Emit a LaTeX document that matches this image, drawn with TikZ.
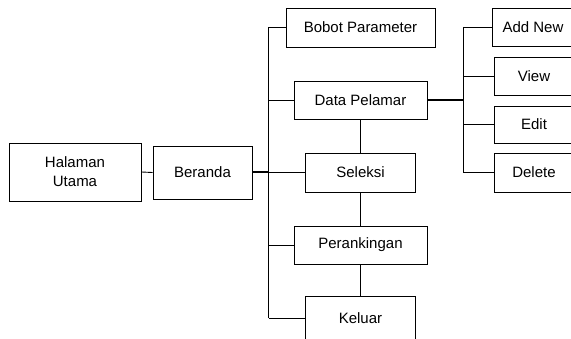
\documentclass[tikz,border=0pt]{standalone}
\usepackage{fontspec}
\setmainfont{Liberation Sans}
\begin{document}
\begin{tikzpicture}[x=1pt,y=-1pt,
  box/.style={draw=black,line width=0.9pt,inner sep=0pt,align=center,font=\fontsize{15}{19}\selectfont},
  thin/.style={line width=0.9pt},
  thick2/.style={line width=2pt}]
\useasboundingbox (0,0) rectangle (571,339);
\clip (0,0) rectangle (571,339);
\node[box,minimum width=132pt,minimum height=58pt] (hal) at (75,172) {Halaman\\Utama};
\node[box,minimum width=99pt,minimum height=53pt] (ber) at (202.5,172.5) {Beranda};
\node[box,minimum width=149pt,minimum height=39pt] (bob) at (360.5,27.5) {Bobot Parameter};
\node[box,minimum width=133pt,minimum height=38pt] (dat) at (360.5,100) {Data Pelamar};
\node[box,minimum width=110pt,minimum height=39pt] (sel) at (360.5,172.5) {Seleksi};
\node[box,minimum width=133pt,minimum height=38pt] (per) at (360.5,245) {Perankingan};
\node[box,minimum width=110pt,minimum height=44pt] (kel) at (360.5,318) {Keluar};
\node[box,minimum width=82pt,minimum height=38pt] (add) at (533,27) {Add New};
\node[box,minimum width=80pt,minimum height=38pt] (vie) at (534,76) {View};
\node[box,minimum width=80pt,minimum height=37pt] (edi) at (534,124.5) {Edit};
\node[box,minimum width=80pt,minimum height=39pt] (del) at (534,172.5) {Delete};
\coordinate (tt) at (268.5,27.5);
\coordinate (tb) at (268.5,318);
\coordinate (tm) at (268.5,172.5);
\coordinate (bt) at (463,27);
\coordinate (bb) at (463,172.5);
\coordinate (bm) at (463,100);
% left
\draw[thin] (hal.east) -- (ber.west);
\draw[thick2] (ber.east) -- (tm);
\draw[thin] (tm) -- (sel.west);
\draw[thin] (tt) -- (tb);
\draw[thin] (tt) -- (bob.west);
\draw[thin] (tt |- dat.west) -- (dat.west);
\draw[thin] (tt |- per.west) -- (per.west);
\draw[thin] (tb) -- (kel.west);
% middle chain
\draw[thin] (dat.south) -- (sel.north);
\draw[thin] (sel.south) -- (per.north);
\draw[thin] (per.south) -- (kel.north);
% right branch
\draw[thick2] (dat.east) -- (bm);
\draw[thin] (bt) -- (bb);
\draw[thin] (bt) -- (add.west);
\draw[thin] (bt |- vie.west) -- (vie.west);
\draw[thin] (bt |- edi.west) -- (edi.west);
\draw[thin] (bb) -- (del.west);
\end{tikzpicture}
\end{document}
